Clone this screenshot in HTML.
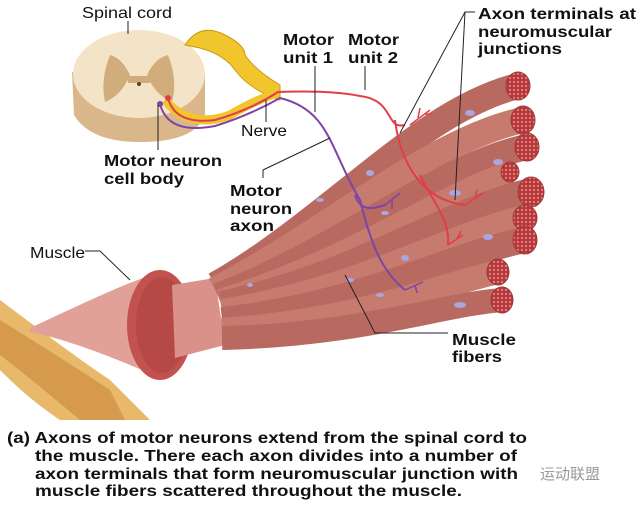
<!DOCTYPE html>
<html><head><meta charset="utf-8"><style>
html,body{margin:0;padding:0;background:#fff;}
svg{display:block}
text{font-family:"Liberation Sans",Arial,sans-serif;font-weight:bold;fill:#111;}
</style></head><body>
<svg width="640" height="507" viewBox="0 0 640 507" xmlns="http://www.w3.org/2000/svg">
<defs>
<pattern id="dots" width="4" height="4" patternUnits="userSpaceOnUse"><rect width="4" height="4" fill="#b4353a"/><circle cx="2" cy="2" r="1.2" fill="#e07d76"/></pattern>
</defs>
<!-- tendon -->
<path d="M0,300 C40,330 80,360 110,380 L150,420 L60,420 C30,400 10,380 0,370 Z" fill="#e8b96a"/>
<path d="M0,320 C40,345 80,370 110,390 L125,420 L80,420 C50,395 20,370 0,355 Z" fill="#d59a4c"/>
<!-- muscle belly cone -->
<path d="M30,328 C80,305 120,285 160,272 L165,380 C120,360 70,340 30,332 Z" fill="#e1a198"/>
<ellipse cx="160" cy="325" rx="33" ry="55" fill="#c2524f"/>
<ellipse cx="162" cy="325" rx="26" ry="48" fill="#b64845"/>
<path d="M172,285 L215,278 L225,345 L175,358 Z" fill="#d99189"/>
<!-- fibers -->
<g fill="none" stroke-linecap="butt">
<path d="M215,285 C330,220 420,110 518,86" stroke="#b86a60" stroke-width="26"/>
<path d="M215,290 C330,230 430,140 523,120" stroke="#c77a6e" stroke-width="26"/>
<path d="M218,296 C340,250 440,165 527,147" stroke="#b86a60" stroke-width="26"/>
<path d="M220,300 C350,260 440,195 510,172" stroke="#c77a6e" stroke-width="22"/>
<path d="M222,305 C360,275 450,210 531,192" stroke="#b86a60" stroke-width="28"/>
<path d="M222,312 C360,290 450,235 525,218" stroke="#c77a6e" stroke-width="26"/>
<path d="M222,320 C360,305 450,255 525,240" stroke="#b86a60" stroke-width="26"/>
<path d="M222,330 C360,320 440,285 498,272" stroke="#c77a6e" stroke-width="24"/>
<path d="M222,338 C360,335 440,305 502,300" stroke="#b86a60" stroke-width="24"/>
</g>
<g fill="url(#dots)" stroke="#9c3a3a">
<ellipse cx="518" cy="86" rx="12" ry="14"/>
<ellipse cx="523" cy="120" rx="12" ry="14"/>
<ellipse cx="527" cy="147" rx="12" ry="14"/>
<ellipse cx="510" cy="172" rx="9" ry="10"/>
<ellipse cx="531" cy="192" rx="13" ry="15"/>
<ellipse cx="525" cy="218" rx="12" ry="13"/>
<ellipse cx="525" cy="240" rx="12" ry="14"/>
<ellipse cx="498" cy="272" rx="11" ry="13"/>
<ellipse cx="502" cy="300" rx="11" ry="13"/>
</g>
<g fill="#a9a6e0">
<ellipse cx="470" cy="113" rx="5" ry="3"/><ellipse cx="498" cy="162" rx="5" ry="3"/><ellipse cx="455" cy="193" rx="6" ry="3"/>
<ellipse cx="370" cy="173" rx="4" ry="3"/><ellipse cx="385" cy="213" rx="4" ry="2"/><ellipse cx="320" cy="200" rx="4" ry="2"/>
<ellipse cx="488" cy="237" rx="5" ry="3"/><ellipse cx="405" cy="258" rx="4" ry="3"/><ellipse cx="460" cy="305" rx="6" ry="3"/>
<ellipse cx="350" cy="280" rx="4" ry="2"/><ellipse cx="250" cy="285" rx="3" ry="2"/><ellipse cx="380" cy="295" rx="4" ry="2"/>
</g>
<!-- spinal cord -->
<path d="M72,72 L74,115 Q90,142 140,142 Q195,142 205,115 L205,72 Z" fill="#d9b78a"/>
<ellipse cx="139" cy="74" rx="66" ry="44" fill="#f4e4c7"/>
<path d="M110,55 Q122,58 130,75 Q122,95 105,102 Q100,80 110,55 Z M168,55 Q155,58 147,75 Q155,95 172,102 Q178,80 168,55 Z" fill="#d2ad7c"/>
<rect x="128" y="76" width="22" height="7" fill="#d2ad7c"/>
<circle cx="139" cy="84" r="2" fill="#6b3b20"/>
<!-- nerve -->
<path d="M185,45 Q200,22 225,35 Q245,45 245,55 Q255,70 280,85 L280,100 Q250,90 235,70 Q225,55 200,48 Z" fill="#f1c62d" stroke="#c89a10"/>
<path d="M165,100 Q190,130 230,115 Q255,100 278,93" fill="none" stroke="#f1c62d" stroke-width="9"/>
<!-- axons -->
<path d="M168,98 Q175,125 215,120 Q250,110 278,92 Q330,90 360,96 C395,100 385,130 405,125" fill="none" stroke="#e23d4a" stroke-width="2"/>
<path d="M160,104 Q168,135 215,126 Q250,115 280,98 C330,110 330,150 360,200 C370,240 380,270 405,290" fill="none" stroke="#7c46a8" stroke-width="2"/>
<path d="M395,120 C400,160 420,200 465,205 M420,175 C435,205 450,220 448,245" fill="none" stroke="#e23d4a" stroke-width="2"/>
<path d="M355,195 C360,210 370,210 385,205" fill="none" stroke="#7c46a8" stroke-width="2"/>
<g stroke="#e23d4a" stroke-width="1.5" fill="none"><path d="M410,125 l20,-15 m-12,8 l2,-10 m5,6 l8,0 M465,205 l18,-12 m-8,5 l2,-8 M448,245 l15,-10 m-6,4 l4,-8"/></g>
<g stroke="#7c46a8" stroke-width="1.5" fill="none"><path d="M385,205 l15,-12 m-8,6 l0,10 M405,290 l18,-8 m-8,3 l2,8"/></g>
<circle cx="168" cy="98" r="3" fill="#e23d4a"/><circle cx="160" cy="104" r="3" fill="#7c46a8"/>
<!-- leader lines -->
<g stroke="#222" stroke-width="1" fill="none">
<line x1="128" y1="21" x2="128" y2="34"/>
<line x1="158" y1="105" x2="158" y2="150"/>
<line x1="266" y1="100" x2="266" y2="122"/>
<line x1="315" y1="66" x2="315" y2="112"/>
<line x1="365" y1="66" x2="365" y2="90"/>
<polyline points="263,178 263,170 330,138"/>
<polyline points="85,251 100,251 130,280"/>
<polyline points="475,12 465,12 400,133"/>
<polyline points="465,12 455,200"/>
<polyline points="448,333 375,333 345,275 M375,333 325,290"/>
</g>
<!-- labels -->
<g font-size="16">
<text x="82" y="18" textLength="90" lengthAdjust="spacingAndGlyphs" style="font-weight:normal">Spinal cord</text>
<text x="283" y="45" textLength="51" lengthAdjust="spacingAndGlyphs">Motor</text><text x="283" y="63" textLength="50" lengthAdjust="spacingAndGlyphs">unit 1</text>
<text x="348" y="45" textLength="51" lengthAdjust="spacingAndGlyphs">Motor</text><text x="348" y="63" textLength="50" lengthAdjust="spacingAndGlyphs">unit 2</text>
<text x="478" y="19" textLength="158" lengthAdjust="spacingAndGlyphs">Axon terminals at</text>
<text x="478" y="37" textLength="134" lengthAdjust="spacingAndGlyphs">neuromuscular</text>
<text x="478" y="54" textLength="84" lengthAdjust="spacingAndGlyphs">junctions</text>
<text x="241" y="136" textLength="46" lengthAdjust="spacingAndGlyphs" style="font-weight:normal">Nerve</text>
<text x="104" y="166" textLength="118" lengthAdjust="spacingAndGlyphs">Motor neuron</text><text x="104" y="184" textLength="80" lengthAdjust="spacingAndGlyphs">cell body</text>
<text x="230" y="196" textLength="52" lengthAdjust="spacingAndGlyphs">Motor</text><text x="230" y="214" textLength="62" lengthAdjust="spacingAndGlyphs">neuron</text><text x="230" y="231" textLength="44" lengthAdjust="spacingAndGlyphs">axon</text>
<text x="30" y="258" textLength="55" lengthAdjust="spacingAndGlyphs" style="font-weight:normal">Muscle</text>
<text x="452" y="345" textLength="64" lengthAdjust="spacingAndGlyphs">Muscle</text><text x="452" y="362" textLength="50" lengthAdjust="spacingAndGlyphs">fibers</text>
</g>
<g font-size="16">
<text x="7" y="443" textLength="520" lengthAdjust="spacingAndGlyphs">(a) Axons of motor neurons extend from the spinal cord to</text>
<text x="35" y="461" textLength="482" lengthAdjust="spacingAndGlyphs">the muscle. There each axon divides into a number of</text>
<text x="35" y="479" textLength="483" lengthAdjust="spacingAndGlyphs">axon terminals that form neuromuscular junction  with</text>
<text x="35" y="496" textLength="427" lengthAdjust="spacingAndGlyphs">muscle fibers scattered throughout the muscle.</text>
</g>
<text x="540" y="479" font-size="15" style="font-weight:normal;fill:#999;font-family:'Liberation Sans','Noto Sans CJK SC',sans-serif">运动联盟</text>
</svg>
</body></html>
